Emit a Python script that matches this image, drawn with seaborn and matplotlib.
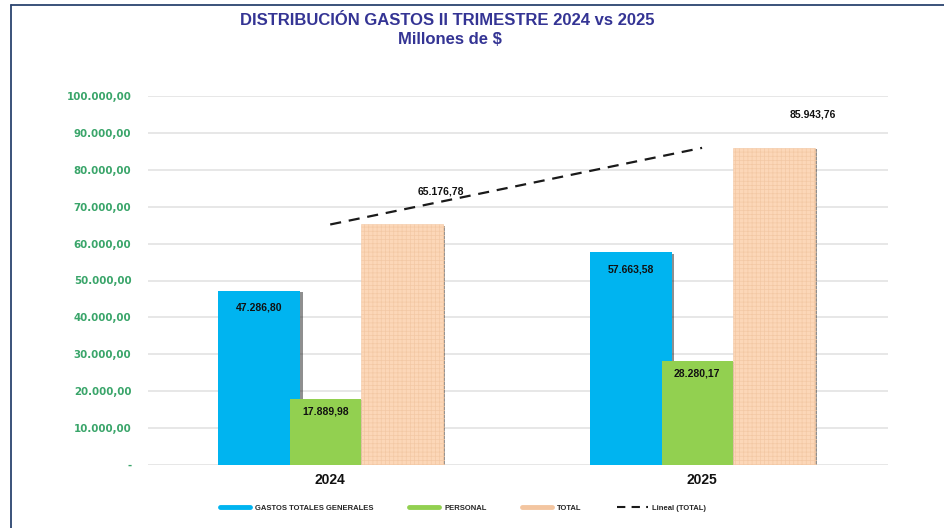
import pandas as pd
import matplotlib.pyplot as plt
import matplotlib.patheffects as pe
from matplotlib.lines import Line2D
import seaborn as sns

# Data (millones de $)
years = ['2024', '2025']
series = ['GASTOS TOTALES GENERALES', 'PERSONAL', 'TOTAL']
gastos_generales = [47286.80, 57663.58]
personal = [17889.98, 28280.17]
total = [65176.78, 85943.76]
y_ticks = [0, 10000, 20000, 30000, 40000, 50000, 60000, 70000, 80000, 90000, 100000]

colors = {'GASTOS TOTALES GENERALES': '#00b4f0', 'PERSONAL': '#92d050', 'TOTAL': '#fcd7b8'}


def fmt(v):
    # Spanish number format 12.345,67
    s = f'{v:,.2f}'
    return s.replace(',', 'X').replace('.', ',').replace('X', '.')


df = pd.DataFrame({
    'year': years * 3,
    'serie': [s for s in series for _ in years],
    'value': gastos_generales + personal + total,
})

sns.set_style('white')
plt.rcParams['font.family'] = ['Liberation Sans', 'DejaVu Sans']
plt.rcParams['hatch.linewidth'] = 0.5

fig = plt.figure(figsize=(9.45, 5.28), dpi=100)
ax = fig.add_axes([0.1566, 0.1193, 0.7831, 0.6989])

sns.barplot(data=df, x='year', y='value', hue='serie', hue_order=series,
            palette=colors, width=0.6, ax=ax, legend=False, saturation=1)

# widen the bars a bit so they touch / overlap like the original
offsets = {'GASTOS TOTALES GENERALES': (-0.301, 0.22), 'PERSONAL': (-0.108, 0.19), 'TOTAL': (0.083, 0.22)}
shadow = [pe.SimplePatchShadow(offset=(1.8, -1), shadow_rgbFace='#333333', alpha=0.55), pe.Normal()]
for container, name in zip(ax.containers, series):
    for i, bar in enumerate(container):
        start, w = offsets[name]
        bar.set_x(i + start)
        bar.set_width(w)
        bar.set_path_effects(shadow)
        if name == 'TOTAL':
            bar.set_hatch('++++')
            bar.set_edgecolor('#f3c8a4')
            bar.set_linewidth(0.4)
        else:
            bar.set_edgecolor('none')

# value labels
for i in range(len(years)):
    s, w = offsets['GASTOS TOTALES GENERALES']
    ax.text(i + s + w / 2, gastos_generales[i] - 4600, fmt(gastos_generales[i]),
            ha='center', va='center', fontsize=7.5, fontweight='bold', color='#111111')
    s, w = offsets['PERSONAL']
    ax.text(i + s + w / 2, personal[i] - 3500, fmt(personal[i]),
            ha='center', va='center', fontsize=7.5, fontweight='bold', color='#111111')
    s, w = offsets['TOTAL']
    ax.text(i + s + w / 2 + 0.105, total[i] + 9000, fmt(total[i]),
            ha='center', va='center', fontsize=7.5, fontweight='bold', color='#111111')

# linear trend of TOTAL
ax.plot([0, 1], total, color='#1a1a1a', ls=(0, (5, 3.5)), lw=1.6, zorder=5)

ax.set_xlim(-0.49, 1.5)
ax.set_ylim(0, 100000)
ax.set_yticks(y_ticks)
ax.set_yticklabels(['-'] + [fmt(v) for v in y_ticks[1:]],
                   fontsize=7.4, fontweight='bold', color='#3aa56a', family='DejaVu Sans')
ax.tick_params(axis='y', length=0, pad=12)
ax.tick_params(axis='x', length=0, pad=6)
for lab in ax.get_xticklabels():
    lab.set_fontsize(10)
    lab.set_fontweight('bold')
    lab.set_color('#111111')
ax.set_xlabel('')
ax.set_ylabel('')
ax.yaxis.grid(True, color='#e3e3e3', lw=1.2)
ax.set_axisbelow(True)
for sp in ax.spines.values():
    sp.set_visible(False)

# title
fig.text(0.473, 0.962, 'DISTRIBUCIÓN GASTOS II TRIMESTRE 2024 vs 2025', ha='center', va='center',
         fontsize=12, fontweight='bold', color='#343494')
fig.text(0.476, 0.926, 'Millones de $', ha='center', va='center',
         fontsize=12, fontweight='bold', color='#343494')

# legend
handles = [Line2D([], [], color=colors['GASTOS TOTALES GENERALES'], lw=3.5),
           Line2D([], [], color=colors['PERSONAL'], lw=3.5),
           Line2D([], [], color='#f3c5a0', lw=3.5),
           Line2D([], [], color='#1a1a1a', lw=1.5, ls=(0, (4, 3)))]
labels = ['GASTOS TOTALES GENERALES', 'PERSONAL', 'TOTAL', 'Lineal (TOTAL)']
fig.legend(handles, labels, loc='center', bbox_to_anchor=(0.49, 0.038), ncol=4, frameon=False,
           prop={'size': 5.5, 'weight': 'bold'}, handlelength=4.0, columnspacing=4.6, handletextpad=0.65)

# outer frame (top and left)
fig.add_artist(Line2D([0.0116, 1.0], [0.99, 0.99], transform=fig.transFigure, color='#2b4470', lw=1.3))
fig.add_artist(Line2D([0.0116, 0.0116], [0.0, 0.99], transform=fig.transFigure, color='#2b4470', lw=1.3))

fig.savefig('out.png', dpi=100)
